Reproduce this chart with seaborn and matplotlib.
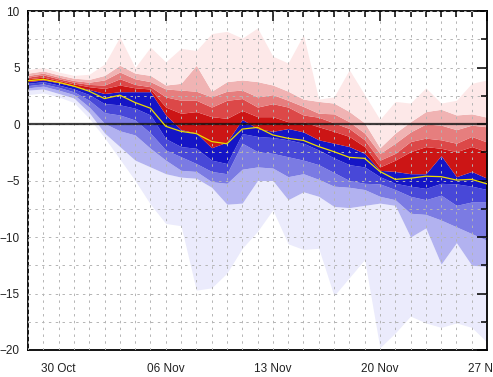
import matplotlib
matplotlib.use('Agg')
import matplotlib.pyplot as plt
import matplotlib.dates as mdates
from matplotlib.ticker import MultipleLocator
import pandas as pd
import seaborn as sns

# daily steps, 28 Oct -> 27 Nov
dates = pd.date_range('2023-10-28', '2023-11-27', freq='D')

# band edges, lowest (q0) to highest (q10)
q0 = [2.6, 2.75, 2.4, 1.9, 0.5, -1.2, -3.1, -5.0, -7.1, -8.8, -9.0, -14.7, -14.5, -13.2, -11.0, -9.5,
      -7.6, -10.6, -11.1, -11.0, -15.2, -13.6, -12.0, -19.8, -18.5, -17.0, -17.6, -18.0, -17.6, -18.0, -19.3]
q1 = [3.0, 3.1, 2.7, 2.3, 1.0, -0.8, -2.0, -3.2, -3.8, -4.4, -4.7, -4.8, -5.6, -7.1, -7.0, -5.0,
      -5.0, -6.7, -6.0, -6.4, -7.3, -7.4, -7.2, -7.0, -7.2, -10.0, -9.2, -12.4, -10.5, -12.5, -12.6]
q2 = [3.2, 3.35, 3.0, 2.6, 1.5, 0.05, -0.6, -0.97, -2.15, -3.2, -4.1, -4.2, -5.1, -5.25, -4.0, -3.8,
      -3.9, -4.66, -4.4, -4.9, -5.5, -5.6, -5.8, -6.4, -6.7, -7.9, -8.0, -8.5, -9.1, -9.7, -10.3]
q3 = [3.4, 3.55, 3.25, 2.85, 2.1, 1.0, 0.8, 0.35, -0.8, -2.3, -2.9, -3.5, -4.2, -4.4, -1.7, -2.45,
      -2.6, -2.9, -3.2, -3.6, -4.3, -5.0, -5.25, -5.3, -5.8, -6.4, -6.7, -6.3, -7.2, -6.9, -6.9]
q4 = [3.6, 3.75, 3.45, 3.1, 2.6, 1.8, 1.7, 1.4, 0.8, -1.3, -2.0, -2.15, -3.2, -3.5, -0.85, -1.1,
      -1.2, -1.4, -1.7, -2.3, -3.0, -3.6, -3.8, -4.66, -5.25, -5.5, -5.7, -5.25, -5.3, -5.5, -5.8]
q5 = [3.75, 3.9, 3.65, 3.35, 3.05, 2.7, 2.86, 2.86, 2.86, 0.8, -0.5, -0.8, -2.1, -1.6, 0.4, -0.4,
      -0.65, -0.4, -0.7, -1.4, -1.7, -2.0, -2.6, -4.1, -4.2, -4.4, -4.4, -2.8, -4.66, -4.2, -4.8]
q6 = [4.0, 4.15, 3.85, 3.55, 3.3, 3.15, 3.45, 3.2, 3.1, 1.5, 0.95, 1.1, 0.65, 0.5, 1.2, 0.65,
      0.65, 0.2, 0.2, -0.25, -0.65, -1.1, -2.0, -3.8, -3.2, -2.45, -2.0, -2.15, -2.45, -2.0, -2.45]
q7 = [4.15, 4.35, 4.0, 3.7, 3.5, 3.45, 4.0, 3.5, 3.3, 2.4, 2.1, 2.1, 1.5, 2.1, 2.25, 1.5,
      1.8, 1.5, 0.8, 0.6, 0.1, -0.4, -1.4, -3.2, -2.6, -1.55, -1.25, -1.4, -1.7, -1.1, -1.6]
q8 = [4.3, 4.5, 4.15, 3.85, 3.7, 3.9, 4.6, 4.0, 3.75, 3.1, 3.0, 2.9, 2.4, 2.9, 3.0, 2.4,
      2.6, 2.1, 1.55, 0.95, 0.9, 0.2, -0.8, -2.6, -1.7, -0.7, 0.0, -0.1, -0.5, -0.1, -0.25]
q9 = [4.5, 4.7, 4.35, 4.05, 3.95, 4.3, 5.2, 4.5, 4.3, 3.45, 3.6, 5.2, 2.9, 3.75, 3.9, 3.75,
      3.45, 2.9, 2.2, 2.0, 1.85, 1.1, 0.1, -2.1, -0.8, 0.2, 1.1, 1.3, 0.8, 0.9, 0.6]
q10 = [4.8, 5.0, 4.6, 4.3, 4.4, 5.3, 7.7, 5.0, 6.8, 5.5, 6.7, 6.5, 8.0, 8.2, 7.6, 8.5,
       6.0, 5.4, 7.9, 2.2, 2.4, 4.8, 2.6, 0.4, 2.0, 1.85, 3.2, 1.85, 2.1, 3.6, 3.9]

# yellow centre line
centre = [3.83, 3.95, 3.69, 3.35, 2.9, 2.25, 2.55, 1.9, 1.4, -0.2, -0.65, -0.85, -1.55, -1.75, -0.45, -0.3,
          -0.97, -1.27, -1.45, -2.0, -2.45, -2.95, -3.04, -4.2, -4.9, -4.8, -4.62, -4.66, -4.96, -4.9, -5.3]

levels = [q0, q1, q2, q3, q4, q5, q6, q7, q8, q9, q10]
band_colors = ['#ebebfc', '#b2b2f0', '#7b7be3', '#4848d8', '#1515c6',
               '#cc1515', '#dc4848', '#e67e7e', '#f0b3b3', '#fde8e8']

sns.set_theme(style='white')
plt.rcParams['font.family'] = ['Liberation Sans', 'DejaVu Sans']

fig = plt.figure(figsize=(4.93, 3.77), dpi=100)
ax = fig.add_axes([28 / 493, 1 - 350 / 377, (487 - 28) / 493, (350 - 11) / 377])

for i in range(10):
    ax.fill_between(dates, levels[i], levels[i + 1], color=band_colors[i], lw=0, zorder=1)

ax.axhline(0, color='#111111', lw=1.6, alpha=0.8, zorder=3)
sns.lineplot(x=dates, y=centre, ax=ax, color='#ecdc00', lw=0.9, zorder=5)

ax.set_xlim(dates[0], dates[-1])
ax.set_ylim(-20, 10)
ax.set_xticks(pd.date_range('2023-10-30', periods=5, freq='7D'))
ax.xaxis.set_minor_locator(mdates.DayLocator())
ax.xaxis.set_major_formatter(mdates.DateFormatter('%d %b'))
ax.yaxis.set_major_locator(MultipleLocator(5))
ax.yaxis.set_minor_locator(MultipleLocator(2.5))

ax.set_axisbelow(False)
ax.grid(True, which='both', color='#b4b4b4', lw=0.7, linestyle=(0, (2.5, 4.5)))
ax.tick_params(which='both', direction='in', top=True, right=True, color='black', width=1.1)
ax.tick_params(which='major', length=7, labelsize=8.5, labelcolor='#222222')
ax.tick_params(which='minor', length=4)
ax.tick_params(axis='x', which='major', pad=9)
ax.tick_params(axis='y', which='major', pad=6)
for s in ax.spines.values():
    s.set_color('black')
    s.set_linewidth(1.3)
ax.set_xlabel('')
ax.set_ylabel('')

plt.savefig('out.png', dpi=100)
plt.close()
